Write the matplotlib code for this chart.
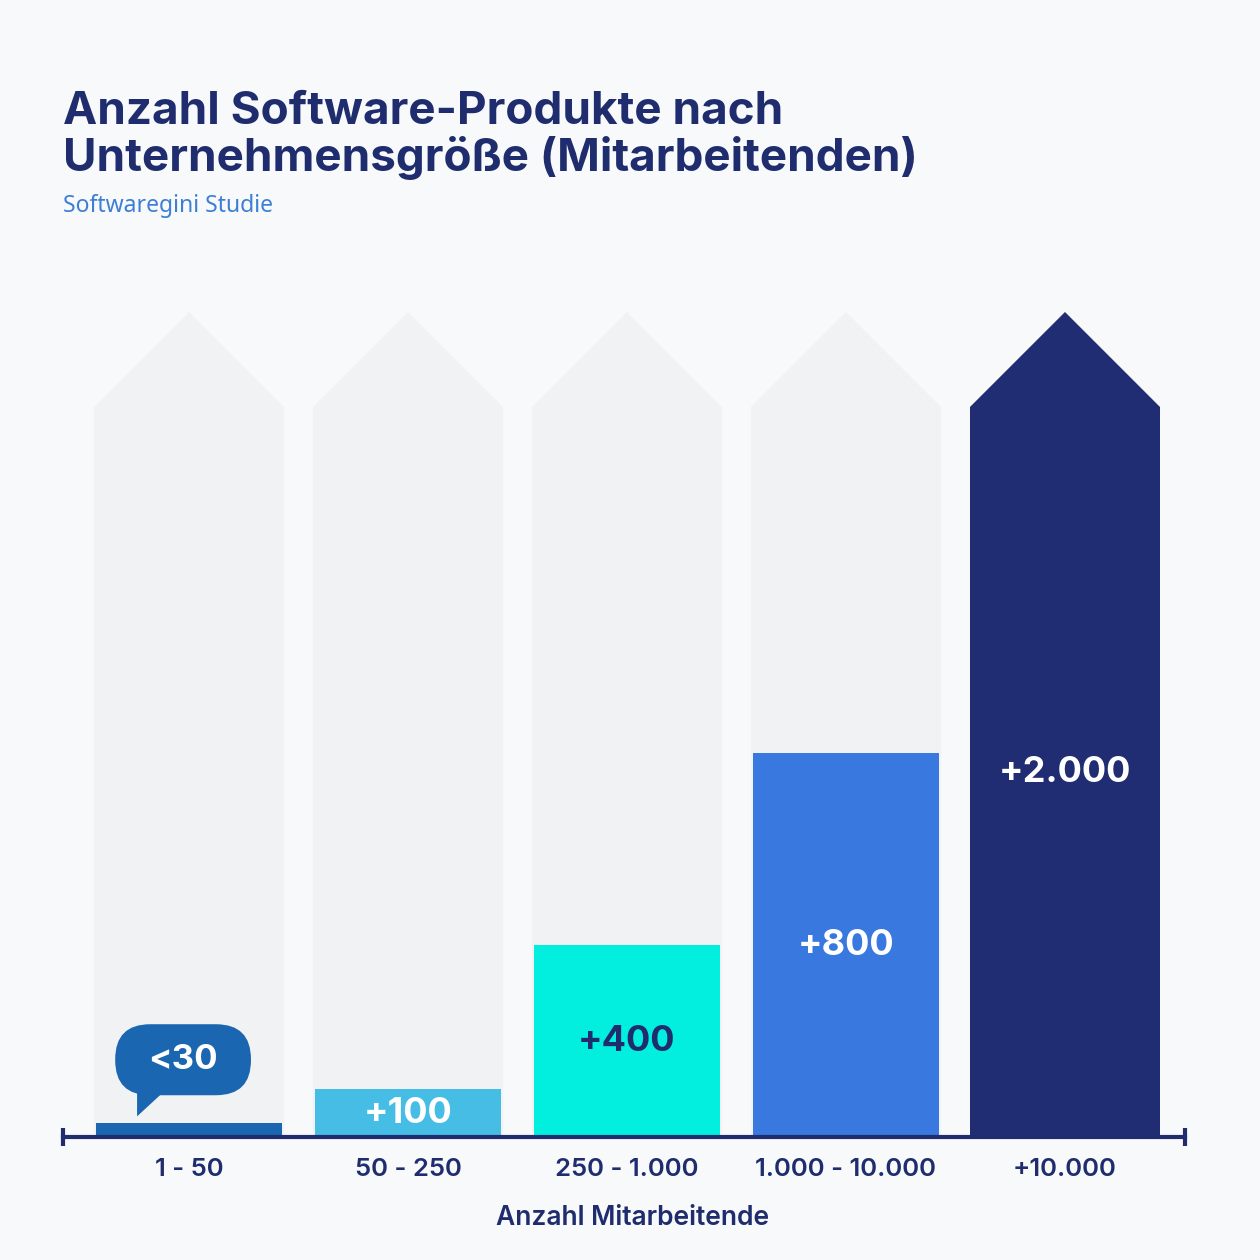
import numpy as np
import matplotlib.pyplot as plt
from matplotlib.patches import Polygon, FancyBboxPatch

# Daten
groessen = ["1 - 50", "50 - 250", "250 - 1.000", "1.000 - 10.000", "+10.000"]
produkte = [30, 100, 400, 800, 2000]
beschriftung = ["<30", "+100", "+400", "+800", "+2.000"]
farben = ["#1a66b1", "#45bde5", "#02efe0", "#3878df", "#202d72"]
textfarben = ["white", "white", "#1f2d6e", "white", "white"]

navy = "#1f2d6e"
hintergrund = "#f8f9fa"
pfeil_grau = "#f1f2f4"

plt.rcParams["font.family"] = ["Inter", "DejaVu Sans"]

fig = plt.figure(figsize=(12.6, 12.6), dpi=100, facecolor=hintergrund)
ax = fig.add_axes([63 / 1260, 123 / 1260, 1122 / 1260, 825 / 1260])
ax.set_facecolor("none")

x = np.arange(len(groessen))
breite = 0.868
halb = breite / 2
rumpf = 1521      # Höhe des geraden Teils der Pfeile
spitze = 198      # Höhe der Pfeilspitze

ax.set_xlim(-0.5753, 4.548)
ax.set_ylim(0, rumpf + spitze)

# graue Pfeile im Hintergrund
pfeile = []
for xi in x:
    p = Polygon([(xi - halb, 0), (xi + halb, 0), (xi + halb, rumpf),
                 (xi, rumpf + spitze), (xi - halb, rumpf)],
                closed=True, fc=pfeil_grau, ec="none", zorder=1)
    ax.add_patch(p)
    pfeile.append(p)

# Balken, an die Pfeilform geschnitten
bars = ax.bar(x, produkte, width=breite - 0.016, color=farben, zorder=2)
bars[-1].set_width(breite)
bars[-1].set_x(x[-1] - halb)
for b, p in zip(bars, pfeile):
    b.set_clip_path(p)

# Werte
for i, (xi, v) in enumerate(zip(x, produkte)):
    if i == 0:
        continue
    ax.text(xi, min(v, rumpf) / 2, beschriftung[i], ha="center", va="center",
            fontsize=26, fontweight="bold", color=textfarben[i], zorder=4)

# Sprechblase für den kleinsten Wert
bx, by = x[0] - 0.027, produkte[0] + 131
blase_b, blase_h = 0.62, 148
ax.add_patch(FancyBboxPatch((bx - blase_b / 2, by - blase_h / 2), blase_b, blase_h,
                            boxstyle="round,pad=0,rounding_size=0.16",
                            mutation_aspect=456, fc=farben[0], ec="none", zorder=3))
ax.add_patch(Polygon([(x[0] - 0.237, by - 20), (x[0] - 0.237, by - 118),
                      (x[0] - 0.13, by - 73)], closed=True,
                     fc=farben[0], ec="none", zorder=3))
ax.text(bx, by, beschriftung[0], ha="center", va="center", fontsize=25,
        fontweight="bold", color=textfarben[0], zorder=4)

# Achse
for s in ["top", "right", "left"]:
    ax.spines[s].set_visible(False)
ax.spines["bottom"].set_color(navy)
ax.spines["bottom"].set_linewidth(3)
ax.spines["bottom"].set_zorder(5)
ax.plot(ax.get_xlim(), [0, 0], ls="none", marker="|", markersize=13,
        markeredgewidth=3, color=navy, clip_on=False, zorder=6)
ax.set_yticks([])
ax.set_xticks(x, groessen)
ax.tick_params(axis="x", length=0, pad=15, labelsize=18.5, labelcolor=navy)
for t in ax.get_xticklabels():
    t.set_fontweight("semibold")
ax.set_xlabel("Anzahl Mitarbeitende", fontsize=19, fontweight="semibold", color=navy)
ax.xaxis.set_label_coords(0.508, -0.098)
ax.xaxis.label.set_va("center")

# Titel
fig.text(63 / 1260, 1 - 91 / 1260, "Anzahl Software-Produkte nach\nUnternehmensgröße (Mitarbeitenden)",
         ha="left", va="top", fontsize=33, fontweight="bold", color=navy, linespacing=1.08)
fig.text(63 / 1260, 1 - 206 / 1260, "Softwaregini Studie", ha="left", va="center",
         fontsize=16.5, color="#3d7fd6", family=["Noto Sans", "DejaVu Sans"])

fig.savefig("out.png", dpi=100, facecolor=hintergrund)
